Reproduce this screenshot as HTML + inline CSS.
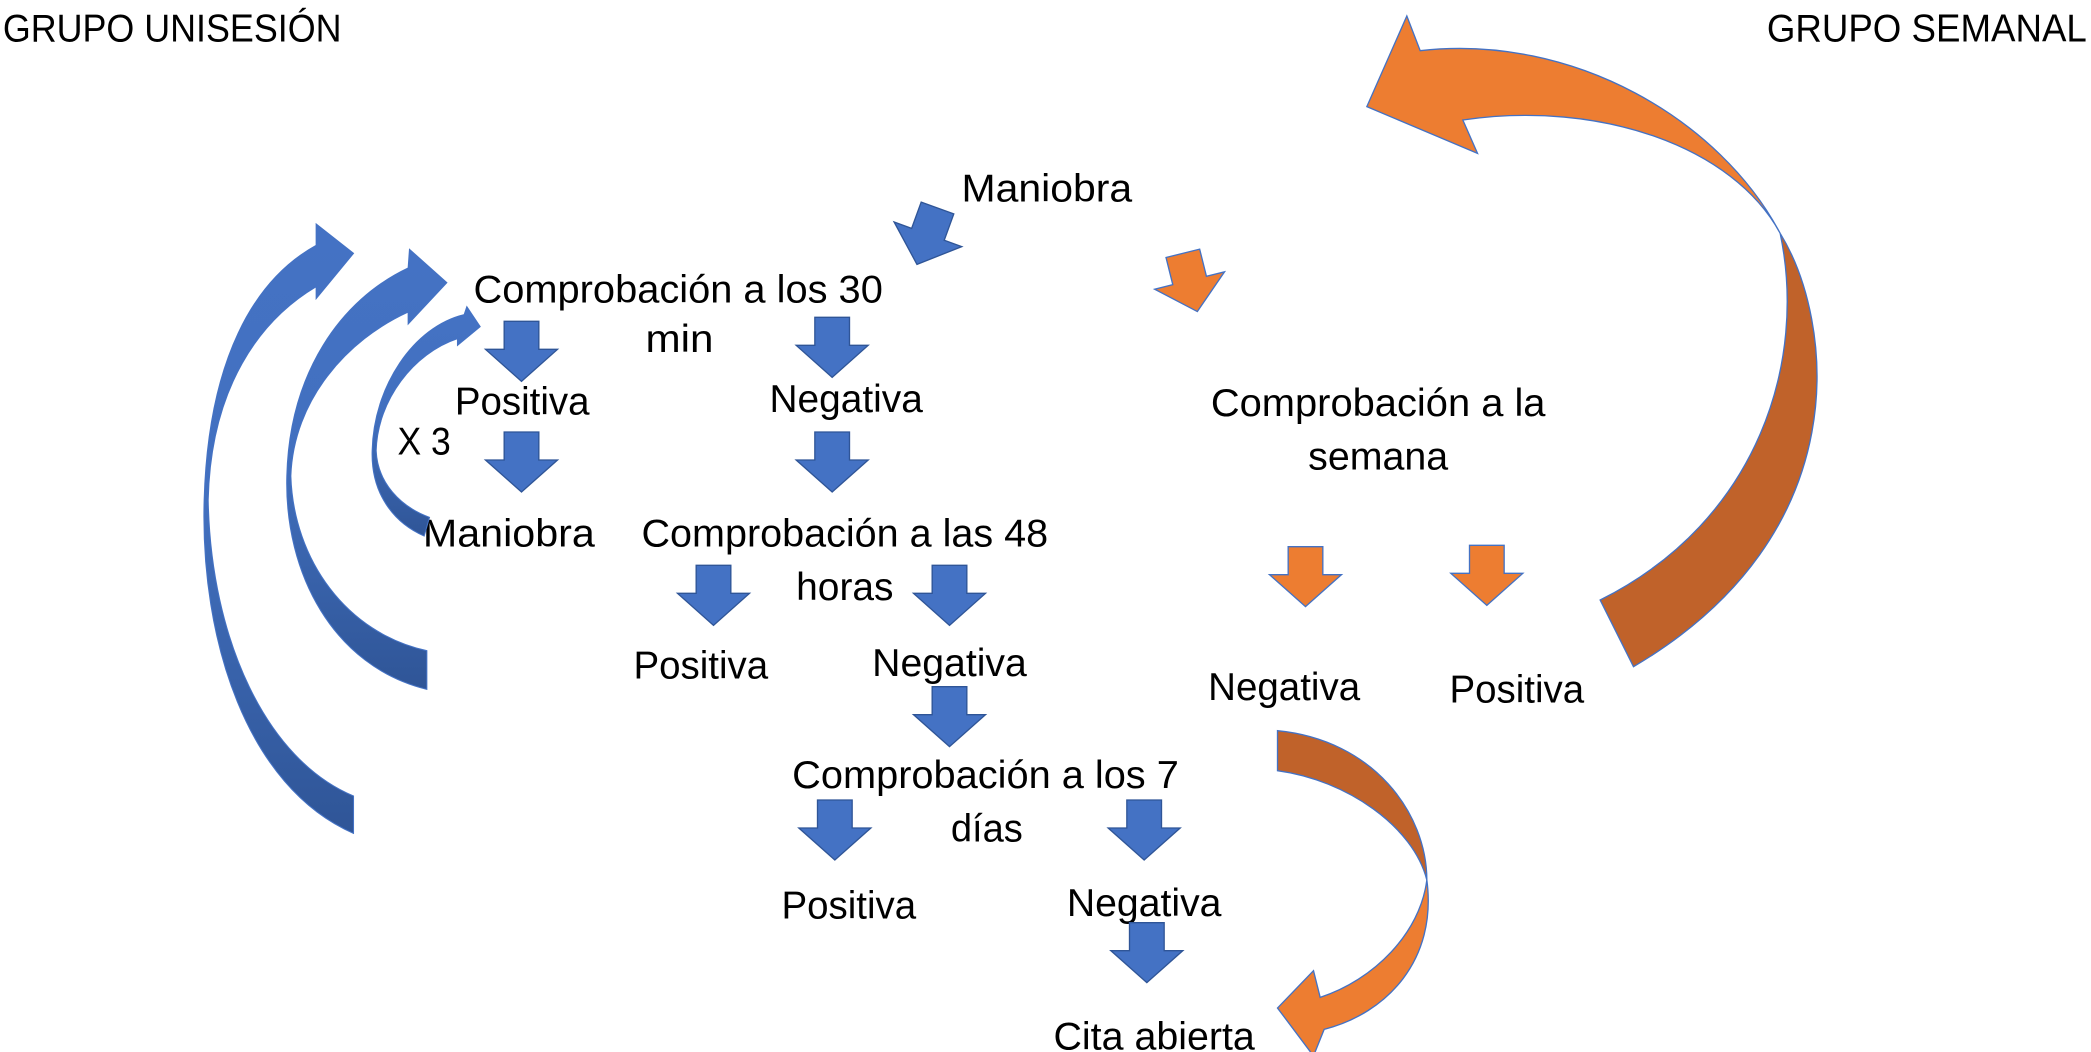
<!DOCTYPE html>
<html><head><meta charset="utf-8"><style>
html,body{margin:0;padding:0;background:#fff;}
svg{display:block;}
text{font-family:"Liberation Sans",sans-serif;font-size:29px;fill:#000;}
</style></head><body>
<svg width="2091" height="1052" viewBox="0 0 1568 789" xmlns="http://www.w3.org/2000/svg">
<defs>
<polygon id="da" points="-13,0 13,0 13,21 27,21 0,45 -27,21 -13,21"/>
<linearGradient id="bg" x1="0" y1="0" x2="0" y2="1"><stop offset="0" stop-color="#4472c4"/><stop offset="0.45" stop-color="#4270bf"/><stop offset="1" stop-color="#2f5597"/></linearGradient>
</defs>
<text x="2" y="31" textLength="254" lengthAdjust="spacingAndGlyphs" font-size="27">GRUPO UNISESIÓN</text>
<text x="1325" y="31" textLength="240" lengthAdjust="spacingAndGlyphs" font-size="27">GRUPO SEMANAL</text>
<text x="721" y="151" textLength="128" lengthAdjust="spacingAndGlyphs">Maniobra</text>
<text x="355" y="227" textLength="307" lengthAdjust="spacingAndGlyphs">Comprobación a los 30</text>
<text x="484" y="264" textLength="51" lengthAdjust="spacingAndGlyphs">min</text>
<text x="341" y="311" textLength="101" lengthAdjust="spacingAndGlyphs">Positiva</text>
<text x="577" y="309" textLength="115" lengthAdjust="spacingAndGlyphs">Negativa</text>
<text x="298" y="341" textLength="40" lengthAdjust="spacingAndGlyphs">X 3</text>
<text x="317" y="410" textLength="129" lengthAdjust="spacingAndGlyphs">Maniobra</text>
<text x="481" y="410" textLength="305" lengthAdjust="spacingAndGlyphs">Comprobación a las 48</text>
<text x="597" y="450" textLength="73" lengthAdjust="spacingAndGlyphs">horas</text>
<text x="475" y="509" textLength="101" lengthAdjust="spacingAndGlyphs">Positiva</text>
<text x="654" y="507" textLength="116" lengthAdjust="spacingAndGlyphs">Negativa</text>
<text x="908" y="312" textLength="251" lengthAdjust="spacingAndGlyphs">Comprobación a la</text>
<text x="981" y="352" textLength="105" lengthAdjust="spacingAndGlyphs">semana</text>
<text x="906" y="525" textLength="114" lengthAdjust="spacingAndGlyphs">Negativa</text>
<text x="1087" y="527" textLength="101" lengthAdjust="spacingAndGlyphs">Positiva</text>
<text x="594" y="591" textLength="290" lengthAdjust="spacingAndGlyphs">Comprobación a los 7</text>
<text x="713" y="631" textLength="54" lengthAdjust="spacingAndGlyphs">días</text>
<text x="586" y="689" textLength="101" lengthAdjust="spacingAndGlyphs">Positiva</text>
<text x="800" y="687" textLength="116" lengthAdjust="spacingAndGlyphs">Negativa</text>
<text x="790" y="787" textLength="151" lengthAdjust="spacingAndGlyphs">Cita abierta</text>

<g fill="#4472c4" stroke="#2f5597" stroke-width="1">
<use href="#da" x="391" y="241"/>
<use href="#da" x="624" y="238"/>
<use href="#da" x="391" y="324"/>
<use href="#da" x="624" y="324"/>
<use href="#da" x="535" y="424"/>
<use href="#da" x="712" y="424"/>
<use href="#da" x="712" y="515"/>
<use href="#da" x="626" y="600"/>
<use href="#da" x="858" y="600"/>
<use href="#da" x="860" y="692"/>
<use href="#da" transform="translate(703,156) rotate(20)"/>
</g>
<g fill="#ed7d31" stroke="#4472c4" stroke-width="1">
<use href="#da" x="979" y="410"/>
<use href="#da" x="1115" y="409"/>
<use href="#da" transform="translate(887,190) rotate(-14)"/>
</g>

<g fill="url(#bg)" stroke="#4472c4" stroke-width="0.8">
<path d="M265,625 C185,590 150,480 153,375 C156,270 190,210 237,184 L237,168 L265,190 L237,224 L237,215 C195,240 158,290 156,375 C158,480 200,570 265,597 Z"/>
<path d="M320,517 C250,500 213,430 215,357 C217,280 255,225 306,201 L307,187 L335,212 L306,243 L306,234 C260,255 220,300 218,357 C220,420 260,475 320,488 Z"/>
<path d="M318,402 C295,392 278,370 279,338 C280,290 310,245 348,236 L350,230 L360,245 L343,259 L343,254 C310,265 283,300 282,338 C283,362 300,380 322,388 Z"/>
</g>

<path d="M1335,175 C1375,240 1395,400 1225,500 L1200,450 C1320,390 1355,270 1335,175 Z" fill="#c0622a" stroke="#4472c4" stroke-width="1"/>
<path d="M1335,175 C1290,90 1180,25 1065,38 L1055,12 L1025,80 L1108,115 L1097,90 C1200,75 1300,110 1335,175 Z" fill="#ed7d31" stroke="#4472c4" stroke-width="1"/>

<path d="M958,548 C1030,555 1070,610 1070,660 C1060,620 1010,585 958,578 Z" fill="#c0622a" stroke="#4472c4" stroke-width="1"/>
<path d="M1070,660 C1078,720 1040,760 993,772 L985,792 L958,756 L985,728 L990,748 C1030,735 1065,700 1070,660 Z" fill="#ed7d31" stroke="#4472c4" stroke-width="1"/>
</svg>
</body></html>
